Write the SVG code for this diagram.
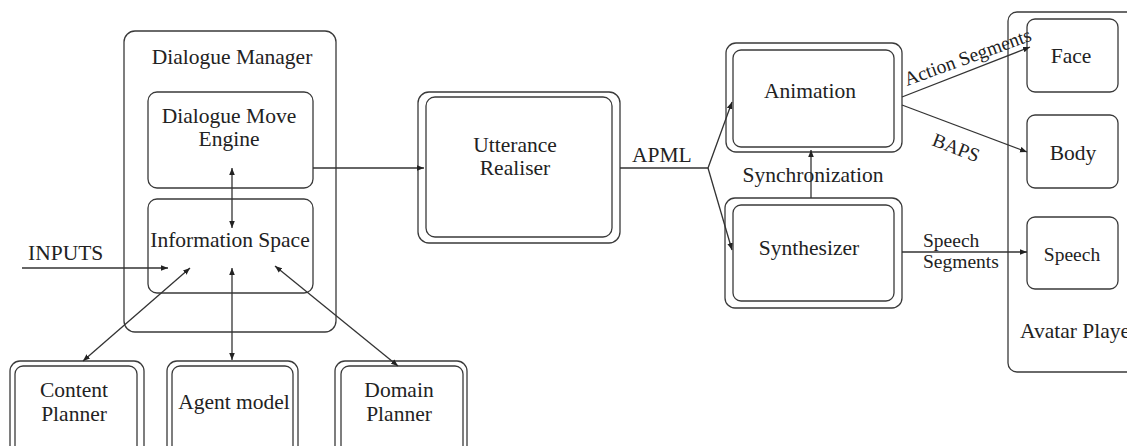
<svg xmlns="http://www.w3.org/2000/svg" width="1127" height="446" viewBox="0 0 1127 446">
<style>
.b{fill:none;stroke:#3a3a3a;stroke-width:1.3}
.t{font-family:"Liberation Serif","Times New Roman",serif;font-size:21.5px;fill:#222}
.s{font-family:"Liberation Serif","Times New Roman",serif;font-size:19.5px;fill:#222}
.c{text-anchor:middle}
.l{fill:none;stroke:#333;stroke-width:1.3}
</style>
<defs>
<marker id="a" viewBox="0 0 10 10" refX="10" refY="5" markerWidth="7" markerHeight="7" markerUnits="userSpaceOnUse" orient="auto-start-reverse">
<path d="M0,1 L10,5 L0,9 z" fill="#222"/>
</marker>
</defs>
<rect width="1127" height="446" fill="#fff"/>
<g id="dialogue-manager">
<rect class="b" x="124" y="31" width="212" height="301" rx="11"/>
<text class="t c" x="232" y="64">Dialogue Manager</text>
</g>
<g id="dialogue-move-engine">
<rect class="b" x="148" y="92" width="165" height="96" rx="9"/>
<text class="t c" x="229" y="123">Dialogue Move</text>
<text class="t c" x="229" y="146">Engine</text>
</g>
<g id="information-space">
<rect class="b" x="148" y="199" width="165" height="94" rx="9"/>
<text class="t c" x="230" y="247">Information Space</text>
</g>
<g id="inputs">
<text class="t" x="28" y="260">INPUTS</text>
</g>
<g id="content-planner">
<rect class="b" x="10" y="361" width="134" height="100" rx="10"/>
<rect class="b" x="15" y="366" width="122" height="90" rx="8"/>
<text class="t c" x="74" y="397">Content</text>
<text class="t c" x="74" y="421">Planner</text>
</g>
<g id="agent-model">
<rect class="b" x="167" y="361" width="131" height="100" rx="10"/>
<rect class="b" x="172" y="366" width="121" height="90" rx="8"/>
<text class="t c" x="234" y="409">Agent model</text>
</g>
<g id="domain-planner">
<rect class="b" x="335" y="361" width="132" height="100" rx="10"/>
<rect class="b" x="341" y="366" width="122" height="90" rx="8"/>
<text class="t c" x="399" y="397">Domain</text>
<text class="t c" x="399" y="421">Planner</text>
</g>
<g id="utterance-realiser">
<rect class="b" x="418" y="92" width="202" height="151" rx="11"/>
<rect class="b" x="426" y="97" width="186" height="140" rx="9"/>
<text class="t c" x="515" y="152">Utterance</text>
<text class="t c" x="515" y="175">Realiser</text>
</g>
<g id="animation">
<rect class="b" x="726" y="43" width="176" height="109" rx="10"/>
<rect class="b" x="733" y="50" width="161" height="97" rx="8"/>
<text class="t c" x="810" y="98">Animation</text>
</g>
<g id="synthesizer">
<rect class="b" x="725" y="198" width="177" height="110" rx="10"/>
<rect class="b" x="733" y="205" width="161" height="96" rx="8"/>
<text class="t c" x="809" y="255">Synthesizer</text>
</g>
<g id="avatar-player">
<rect class="b" x="1008" y="12" width="130" height="360" rx="9"/>
<text class="t" x="1020" y="338">Avatar Player</text>
</g>
<g id="face">
<rect class="b" x="1027" y="19" width="91" height="73" rx="8"/>
<text class="t c" x="1071" y="63">Face</text>
</g>
<g id="body">
<rect class="b" x="1027" y="115" width="91" height="73" rx="8"/>
<text class="t c" x="1073" y="160">Body</text>
</g>
<g id="speech">
<rect class="b" x="1027" y="217" width="91" height="72" rx="8"/>
<text class="s c" x="1072" y="261">Speech</text>
</g>
<g id="connectors">
<line class="l" x1="232" y1="168" x2="232" y2="228" marker-start="url(#a)" marker-end="url(#a)"/>
<line class="l" x1="22" y1="268" x2="168" y2="268" marker-end="url(#a)"/>
<line class="l" x1="190" y1="268" x2="83" y2="361" marker-start="url(#a)" marker-end="url(#a)"/>
<line class="l" x1="232" y1="268" x2="232" y2="360" marker-start="url(#a)" marker-end="url(#a)"/>
<line class="l" x1="275" y1="266" x2="398" y2="366" marker-start="url(#a)" marker-end="url(#a)"/>
<line class="l" x1="313" y1="168" x2="424" y2="168" marker-end="url(#a)"/>
<polyline class="l" points="620,168 708,168 732,102" marker-end="url(#a)"/>
<line class="l" x1="708" y1="168" x2="732" y2="250" marker-end="url(#a)"/>
<text class="t" x="632" y="162">APML</text>
<line class="l" x1="811" y1="198" x2="811" y2="150" marker-end="url(#a)"/>
<text class="t c" x="813" y="182">Synchronization</text>
<line class="l" x1="902" y1="97" x2="1030" y2="47" marker-end="url(#a)"/>
<text class="s" x="907" y="86" transform="rotate(-20 907 86)">Action Segments</text>
<line class="l" x1="902" y1="105" x2="1027" y2="152" marker-end="url(#a)"/>
<text class="s" x="931" y="145" transform="rotate(21 931 145)">BAPS</text>
<line class="l" x1="902" y1="252" x2="1027" y2="252" marker-end="url(#a)"/>
<text class="s" x="923" y="247">Speech</text>
<text class="s" x="923" y="268">Segments</text>
</g>
</svg>
